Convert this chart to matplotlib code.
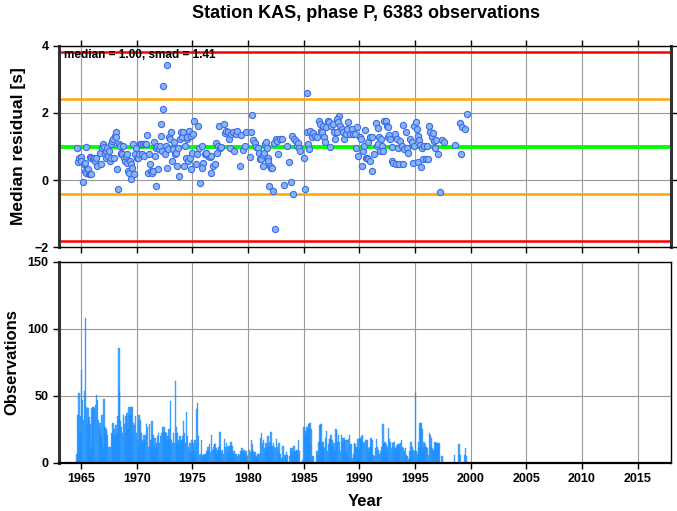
import numpy as np
import matplotlib.pyplot as plt

plt.rcParams['font.family'] = ['Liberation Sans', 'DejaVu Sans']
plt.rcParams['font.weight'] = 'bold'

# Settings
title = 'Station KAS, phase P, 6383 observations'
median, smad = 1.00, 1.41

# median residual per point (decimal year, seconds)
res_years = [
    1964.61, 1964.70, 1964.79, 1964.94, 1965.00, 1965.15, 1965.24, 1965.36, 1965.45, 1965.30,
    1965.45, 1965.60, 1965.69, 1965.81, 1965.90, 1965.75, 1965.90, 1966.05, 1966.14, 1966.26,
    1966.35, 1966.44, 1966.65, 1966.80, 1966.86, 1966.95, 1967.04, 1967.10, 1967.19, 1967.25,
    1967.34, 1967.40, 1967.49, 1967.55, 1967.64, 1967.70, 1967.79, 1967.85, 1967.94, 1968.00,
    1968.09, 1968.15, 1968.24, 1968.30, 1968.36, 1968.45, 1968.54, 1968.60, 1968.69, 1968.78,
    1968.84, 1968.90, 1968.99, 1969.08, 1969.14, 1969.20, 1969.29, 1969.38, 1969.44, 1969.50,
    1969.59, 1969.65, 1969.74, 1969.80, 1969.89, 1969.98, 1970.08, 1970.17, 1970.26, 1970.35,
    1970.44, 1970.53, 1970.62, 1970.71, 1970.80, 1970.89, 1971.01, 1971.10, 1971.19, 1971.25,
    1971.37, 1971.46, 1971.55, 1971.61, 1971.70, 1971.76, 1971.85, 1971.91, 1972.00, 1972.09,
    1972.15, 1972.21, 1972.30, 1972.39, 1972.36, 1972.75, 1972.51, 1972.60, 1972.69, 1972.81,
    1972.90, 1972.99, 1973.08, 1973.17, 1973.26, 1973.35, 1973.41, 1973.50, 1973.59, 1973.71,
    1973.80, 1973.89, 1974.01, 1974.07, 1974.16, 1974.25, 1974.31, 1974.40, 1974.49, 1974.55,
    1974.61, 1974.70, 1974.79, 1974.85, 1974.91, 1974.97, 1975.06, 1975.15, 1975.27, 1975.39,
    1975.51, 1975.60, 1975.69, 1975.81, 1975.96, 1976.11, 1976.20, 1975.87, 1976.23, 1976.39,
    1976.54, 1976.69, 1976.17, 1976.63, 1976.84, 1976.99, 1977.08, 1977.20, 1977.29, 1977.38,
    1977.50, 1977.59, 1977.80, 1977.89, 1978.04, 1978.19, 1978.28, 1978.40, 1978.49, 1978.64,
    1978.77, 1978.89, 1979.01, 1979.25, 1979.40, 1979.55, 1979.70, 1979.85, 1980.24, 1980.36,
    1980.45, 1980.21, 1980.60, 1980.75, 1980.90, 1980.99, 1981.08, 1981.20, 1981.30, 1981.36,
    1981.42, 1981.51, 1981.60, 1981.66, 1981.75, 1981.81, 1981.90, 1981.96, 1982.05, 1982.11,
    1982.20, 1982.32, 1982.41, 1982.50, 1982.62, 1982.71, 1982.86, 1983.01, 1983.22, 1983.46,
    1983.64, 1983.83, 1983.98, 1984.07, 1984.16, 1984.28, 1984.37, 1984.46, 1984.55, 1984.67,
    1985.03, 1985.15, 1985.27, 1985.33, 1985.42, 1985.51, 1985.57, 1985.72, 1985.87, 1986.02,
    1986.17, 1986.33, 1986.42, 1986.54, 1986.63, 1986.72, 1986.84, 1986.93, 1987.02, 1987.14,
    1987.23, 1987.38, 1987.47, 1987.62, 1987.74, 1987.83, 1987.98, 1988.13, 1987.96, 1988.11,
    1988.26, 1988.41, 1988.56, 1988.65, 1988.77, 1988.86, 1989.01, 1989.16, 1989.31, 1989.46,
    1989.61, 1989.67, 1989.76, 1989.91, 1990.06, 1990.14, 1990.27, 1990.36, 1990.45, 1990.51,
    1990.57, 1990.66, 1990.75, 1990.81, 1990.93, 1990.96, 1991.11, 1991.17, 1991.35, 1991.47,
    1991.56, 1991.65, 1991.71, 1991.77, 1991.86, 1991.95, 1992.07, 1992.16, 1992.25, 1992.37,
    1992.46, 1992.55, 1992.60, 1992.69, 1992.75, 1992.90, 1992.96, 1993.05, 1993.20, 1993.29,
    1993.38, 1993.50, 1993.59, 1993.68, 1993.80, 1993.89, 1993.95, 1994.04, 1994.16, 1994.25,
    1994.40, 1994.55, 1994.70, 1994.79, 1994.88, 1994.94, 1995.06, 1995.15, 1995.24, 1995.30,
    1995.39, 1995.48, 1995.54, 1995.66, 1995.75, 1995.84, 1995.96, 1996.05, 1996.14, 1996.26,
    1996.35, 1996.50, 1996.65, 1996.74, 1996.80, 1996.89, 1997.04, 1997.22, 1997.46, 1997.58,
    1998.59, 1999.04, 1999.10, 1999.25, 1999.49, 1999.64,
]
res_values = [
    0.95, 0.54, 0.67, 0.69, 0.57, -0.05, 0.47, 0.51, 0.99, 0.27,
    0.22, 0.32, 0.17, 0.19, 0.17, 0.69, 0.67, 0.62, 0.67, 0.57,
    0.67, 0.42, 0.82, 0.47, 0.97, 1.07, 0.99, 0.77, 0.67, 0.87,
    0.97, 0.72, 0.87, 0.57, 0.67, 1.07, 1.17, 1.22, 0.67, 1.32,
    1.42, 1.27, 0.32, -0.27, 1.07, 1.02, 0.77, 0.82, 0.77, 1.02,
    0.67, 0.57, 0.72, 0.77, 0.52, 0.27, 0.22, 0.57, 0.47, 0.04,
    0.37, 1.07, 0.17, 0.77, 0.97, 0.67, 0.67, 0.77, 1.07, 1.07,
    0.77, 1.07, 0.72, 1.07, 1.07, 1.35, 0.22, 0.77, 0.49, 0.27,
    0.22, 0.27, 1.12, 0.72, -0.17, 0.97, 1.02, 0.32, 0.92, 1.02,
    1.67, 1.32, 0.87, 2.11, 2.81, 3.44, 0.77, 1.02, 0.37, 0.92,
    1.27, 1.22, 1.42, 0.57, 0.92, 1.12, 0.77, 0.82, 0.42, 0.97,
    0.12, 1.22, 1.42, 1.27, 1.42, 0.42, 1.02, 0.67, 1.22, 1.27,
    0.57, 1.47, 0.67, 0.32, 1.32, 0.82, 1.37, 1.77, 0.47, 0.77,
    1.62, 0.97, -0.10, 1.02, 0.52, 0.77, 0.82, 0.37, 0.77, 0.72,
    0.69, 0.72, 0.82, 0.22, 0.42, 0.47, 1.09, 0.82, 1.02, 1.62,
    0.95, 0.99, 1.67, 1.39, 1.47, 1.42, 1.22, 0.95, 1.37, 1.42,
    0.87, 1.37, 1.47, 0.42, 1.35, 0.89, 1.02, 1.42, 1.42, 1.95,
    1.19, 0.69, 1.09, 0.99, 0.97, 0.82, 0.62, 0.62, 0.42, 0.75,
    0.82, 1.07, 1.12, 0.97, 0.67, 0.57, -0.17, 0.42, 0.37, 0.37,
    -0.32, 1.09, -1.47, 1.22, 1.17, 0.77, 1.22, 1.22, -0.15, 1.02,
    0.55, -0.05, 1.32, -0.42, 1.22, 1.15, 1.02, 1.09, 0.97, 0.87,
    0.67, -0.27, 1.42, 2.59, 1.07, 0.92, 1.45, 1.27, 1.39, 1.32,
    1.27, 1.77, 1.67, 1.47, 1.42, 1.62, 1.29, 1.12, 1.57, 1.77,
    1.72, 0.99, 1.62, 1.67, 1.42, 1.22, 1.42, 1.92, 1.82, 1.72,
    1.62, 1.52, 1.42, 1.22, 1.37, 1.52, 1.72, 1.37, 1.52, 1.37,
    1.37, 0.97, 1.57, 0.72, 1.27, 1.22, 0.42, 0.87, 1.02, 1.49,
    0.67, 0.67, 1.12, 0.62, 0.57, 1.27, 0.27, 1.27, 0.77, 1.69,
    1.02, 1.07, 1.55, 1.27, 0.87, 1.22, 1.02, 0.87, 1.77, 1.77,
    1.62, 1.27, 1.57, 1.35, 1.22, 0.99, 0.57, 0.52, 1.37, 0.47,
    1.22, 0.97, 0.47, 1.17, 1.02, 0.49, 1.64, 0.92, 1.42, 0.97,
    0.82, 1.22, 1.12, 0.52, 1.62, 1.02, 1.72, 1.52, 1.32, 0.55,
    1.19, 1.05, 0.39, 0.97, 0.62, 1.02, 0.62, 1.02, 0.62, 1.62,
    1.42, 1.27, 1.39, 1.15, 0.97, 1.19, 0.77, -0.35, 1.19, 1.12,
    1.05, 1.69, 0.79, 1.59, 1.52, 1.97,
]

# observations per month, Jan..Dec
count_start_year = 1964
counts_1960s = [
    0, 0, 0, 0, 0, 0, 0, 7, 36, 52, 22, 35,
    69, 47, 32, 54, 108, 42, 29, 41, 34, 29, 12, 41,
    42, 42, 41, 43, 51, 47, 32, 25, 30, 20, 36, 12,
    48, 27, 25, 24, 21, 12, 12, 12, 22, 22, 30, 25,
    20, 28, 22, 35, 86, 54, 31, 27, 22, 36, 29, 22,
    35, 37, 25, 42, 36, 42, 42, 22, 30, 28, 35, 22,
]
counts_1970s = [
    17, 12, 36, 32, 22, 17, 16, 21, 17, 21, 29, 27,
    12, 29, 12, 17, 31, 21, 12, 19, 12, 15, 20, 22,
    15, 20, 22, 27, 22, 27, 23, 22, 17, 20, 25, 18,
    46, 17, 15, 22, 15, 61, 27, 22, 14, 17, 20, 16,
    17, 20, 31, 22, 15, 38, 20, 12, 7, 15, 9, 17,
    15, 9, 17, 7, 40, 45, 20, 6, 7, 17, 6, 6,
    6, 7, 7, 9, 12, 10, 14, 8, 21, 10, 12, 14,
    14, 11, 7, 10, 12, 23, 9, 7, 10, 7, 18, 12,
    15, 12, 8, 13, 12, 16, 13, 7, 9, 7, 7, 7,
    5, 7, 6, 7, 9, 11, 8, 10, 6, 9, 7, 5,
]
counts_1980s = [
    0, 10, 8, 17, 14, 9, 6, 8, 5, 4, 7, 7,
    0, 19, 22, 15, 17, 11, 9, 15, 12, 20, 12, 16,
    23, 13, 10, 15, 12, 11, 18, 12, 9, 15, 7, 0,
    4, 13, 0, 6, 5, 8, 6, 0, 5, 11, 9, 11,
    7, 13, 8, 9, 10, 9, 17, 9, 0, 0, 2, 0,
    27, 24, 21, 27, 25, 29, 30, 15, 25, 5, 5, 0,
    0, 0, 9, 6, 16, 28, 29, 16, 12, 16, 11, 19,
    24, 9, 14, 18, 18, 21, 17, 12, 15, 10, 25, 24,
    16, 21, 16, 9, 21, 19, 15, 19, 17, 9, 17, 5,
    18, 21, 14, 14, 4, 7, 15, 14, 11, 12, 18, 10,
]
counts_1990s = [
    19, 17, 20, 21, 16, 15, 17, 17, 17, 11, 8, 12,
    19, 17, 6, 5, 1, 11, 18, 12, 10, 7, 0, 9,
    12, 29, 14, 16, 14, 10, 12, 26, 18, 16, 11, 15,
    12, 16, 10, 11, 13, 14, 14, 12, 15, 17, 12, 11,
    9, 11, 6, 5, 0, 3, 9, 16, 12, 8, 10, 9,
    52, 9, 7, 16, 11, 30, 30, 25, 11, 16, 12, 14,
    12, 11, 6, 22, 21, 19, 11, 9, 10, 16, 15, 15,
    15, 14, 15, 0, 5, 5, 0, 0, 0, 0, 0, 0,
    0, 0, 0, 0, 0, 0, 6, 0, 0, 0, 0, 14,
    6, 0, 0, 0, 0, 6, 11, 5, 0, 0, 0, 0,
]

counts = np.array(counts_1960s + counts_1970s + counts_1980s + counts_1990s)
months = count_start_year + (np.arange(len(counts)) + 0.5) / 12.0

xmin, xmax = 1963, 2018
year_ticks = np.arange(1965, 2016, 5)

fig = plt.figure(figsize=(6.77, 5.11), dpi=100)
ax1 = fig.add_axes([0.0871, 0.5166, 0.9040, 0.3934])
ax2 = fig.add_axes([0.0871, 0.0940, 0.9040, 0.3934])


def style_axes(ax):
    ax.set_xlim(xmin, xmax)
    ax.set_xticks(year_ticks)
    ax.grid(True, color='#9a9a9a', linewidth=0.8)
    ax.set_axisbelow(True)
    ax.tick_params(direction='out', length=4, width=1, labelsize=9, colors='black')
    for side in ['top', 'bottom', 'right']:
        ax.spines[side].set_linewidth(1.0)
        ax.spines[side].set_color('black')
    ax.spines['left'].set_linewidth(2.2)
    ax.spines['left'].set_color('#333333')


# Top panel: residuals
style_axes(ax1)
ax1.set_ylim(-2, 4)
ax1.set_yticks([-2, 0, 2, 4])
ax1.tick_params(axis='x', top=True, labelbottom=False)
ax1.tick_params(axis='y', right=True)
ax1.spines['right'].set_linewidth(2.2)
ax1.spines['right'].set_color('#333333')
ax1.axhline(median + 2 * smad, color='#ff0000', linewidth=1.8, zorder=2)
ax1.axhline(median - 2 * smad, color='#ff0000', linewidth=1.8, zorder=2)
ax1.axhline(median + smad, color='#ffa500', linewidth=1.8, zorder=2)
ax1.axhline(median - smad, color='#ffa500', linewidth=1.8, zorder=2)
ax1.axhline(median, color='#00ff00', linewidth=2.8, zorder=2)
ax1.scatter(res_years, res_values, s=20, facecolor='#86b4f4', edgecolor='#3d6ae8',
            linewidth=0.8, zorder=3)
ax1.text(0.008, 0.985, 'median = %.2f, smad = %.2f' % (median, smad), transform=ax1.transAxes,
         ha='left', va='top', fontsize=8.5, fontweight='bold', zorder=4)
ax1.set_ylabel('Median residual [s]', fontsize=12.5, fontweight='bold', labelpad=6)

# Bottom panel: observations
style_axes(ax2)
ax2.set_ylim(0, 150)
ax2.set_yticks([0, 50, 100, 150])
ax2.spines['bottom'].set_linewidth(1.6)
ax2.bar(months, counts, width=1.6 / 12, color='#1e90ff', alpha=0.8,
        edgecolor='#1e90ff', linewidth=0.3, zorder=2)
ax2.set_ylabel('Observations', fontsize=12, fontweight='bold', labelpad=6)
ax2.set_xlabel('Year', fontsize=12, fontweight='bold', labelpad=6)

for ax in (ax1, ax2):
    for lab in ax.get_xticklabels() + ax.get_yticklabels():
        lab.set_fontweight('bold')

fig.suptitle(title, x=0.54, y=0.99, fontsize=13, fontweight='bold')

plt.savefig('out.png', dpi=100)
